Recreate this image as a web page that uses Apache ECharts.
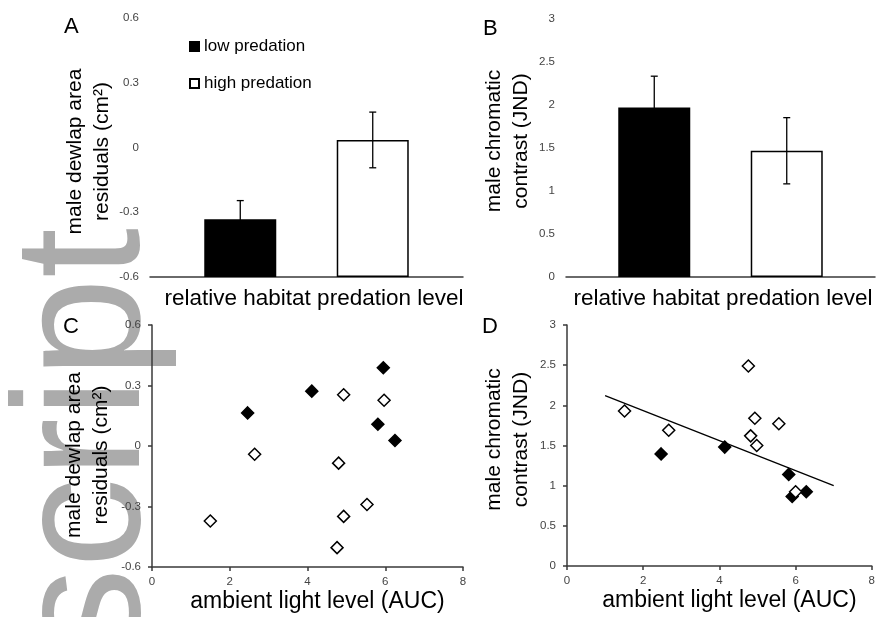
<!DOCTYPE html>
<html>
<head>
<meta charset="utf-8">
<script src="https://cdn.jsdelivr.net/npm/echarts@6/dist/echarts.min.js"></script>
<style>
  html, body { margin: 0; padding: 0; background: #fff; }
  #chart { width: 878px; height: 617px; }
</style>
</head>
<body>
<div id="chart"></div>
<script>
// data
var habitatCategory = ['relative habitat predation level'];
var groupNames = ['low predation', 'high predation'];

// panel A / B: group means and standard errors
var dewlapMean = [-0.333, 0.035];
var dewlapSE = [0.087, 0.129];
var contrastMean = [1.97, 1.468];
var contrastSE = [0.365, 0.385];

// panel C: ambient light vs dewlap residuals
var lowLightC = [2.46, 4.11, 5.81, 5.95, 6.25];
var lowDewlap = [0.164, 0.272, 0.108, 0.388, 0.027];
var highLightC = [1.50, 2.64, 4.76, 4.80, 4.93, 4.93, 5.53, 5.97];
var highDewlap = [-0.372, -0.041, -0.504, -0.085, 0.254, -0.349, -0.29, 0.227];

// panel D: ambient light vs chromatic contrast
var lowLightD = [2.47, 4.14, 5.82, 5.91, 6.28];
var lowContrast = [1.395, 1.48, 1.14, 0.865, 0.925];
var highLightD = [1.51, 2.67, 4.76, 4.82, 4.93, 4.98, 5.56, 6.0];
var highContrast = [1.93, 1.69, 2.49, 1.62, 1.84, 1.50, 1.77, 0.925];

// regression line in D
var trendX = [1, 7];
var trendY = [2.12, 1.0];

var dewlapTicks = { min: -0.6, max: 0.6, interval: 0.3 };
var contrastTicks = { min: 0, max: 3, interval: 0.5 };
var lightTicks = { min: 0, max: 8, interval: 2 };

(function () {
  var myChart = echarts.init(document.getElementById('chart'));
  var FONT = 'Liberation Sans, Arial, sans-serif';
  var AXIS_COLOR = '#3a3a3a';
  var BAR_W = 72;
  var BAR_GAP = 0.84;

  function zip(xs, ys) {
    return xs.map(function (x, i) { return [x, ys[i]]; });
  }

  /* common axis styling */
  function axisBase() {
    return {
      axisLine: { onZero: false, lineStyle: { color: AXIS_COLOR, width: 1.5 } },
      axisTick: { length: 4, lineStyle: { color: AXIS_COLOR, width: 1.5 } },
      axisLabel: { color: '#444', fontSize: 11.5, fontFamily: FONT, margin: 11 },
      splitLine: { show: false }
    };
  }

  function valueY(grid, ticks, name, gap, pad) {
    return Object.assign(axisBase(), {
      type: 'value', gridIndex: grid,
      min: ticks.min, max: ticks.max, interval: ticks.interval,
      name: name, nameLocation: 'middle', nameGap: gap, nameRotate: 90,
      nameTextStyle: { color: '#000', fontSize: 21, lineHeight: 27, fontFamily: FONT, padding: pad }
    });
  }

  function catX(grid, shift) {
    var a = axisBase();
    a.axisLabel = { color: '#000', fontSize: 22.5, fontFamily: FONT, margin: 10, padding: [0, 0, 0, shift] };
    return Object.assign(a, {
      type: 'category', gridIndex: grid, data: habitatCategory,
      boundaryGap: true
    });
  }

  function lightX(grid) {
    var a = axisBase();
    a.axisLabel.margin = 9;
    return Object.assign(a, {
      type: 'value', gridIndex: grid,
      min: lightTicks.min, max: lightTicks.max, interval: lightTicks.interval,
      name: 'ambient light level (AUC)', nameLocation: 'middle', nameGap: 23,
      nameTextStyle: { color: '#000', fontSize: 23, fontFamily: FONT, padding: [0, 0, 0, 20] }
    });
  }

  /* error bars drawn on the category axis next to each bar */
  function errorBars(xi, yi, means, ses) {
    return {
      type: 'custom', xAxisIndex: xi, yAxisIndex: yi, z: 5,
      data: means.map(function (m, i) { return [0, m, ses[i], i]; }),
      encode: { x: 0, y: 1 },
      renderItem: function (params, api) {
        var mean = api.value(1), se = api.value(2), idx = api.value(3);
        var base = api.coord([0, mean]);
        var x = base[0] + (idx - 0.5) * (BAR_W + BAR_W * BAR_GAP);
        var top = api.coord([0, mean + se])[1];
        var bot = api.coord([0, mean - se])[1];
        var st = { stroke: '#000', lineWidth: 1.3 };
        return {
          type: 'group',
          children: [
            { type: 'line', shape: { x1: x, y1: top, x2: x, y2: bot }, style: st },
            { type: 'line', shape: { x1: x - 3.5, y1: top, x2: x + 3.5, y2: top }, style: st },
            { type: 'line', shape: { x1: x - 3.5, y1: bot, x2: x + 3.5, y2: bot }, style: st }
          ]
        };
      }
    };
  }

  /* bars rise from the bottom of the axis (Excel style): an invisible
     base bar up to the axis minimum, then the visible part stacked on it */
  function bars(xi, yi, means, ticks) {
    var out = [];
    means.forEach(function (m, i) {
      var stack = 'g' + xi + '_' + i;
      out.push({
        type: 'bar', xAxisIndex: xi, yAxisIndex: yi, stack: stack, stackStrategy: 'all',
        data: [ticks.min], barWidth: BAR_W, barGap: (BAR_GAP * 100) + '%',
        itemStyle: { color: 'rgba(0,0,0,0)' }, silent: true, tooltip: { show: false }
      });
      out.push({
        name: groupNames[i], type: 'bar', xAxisIndex: xi, yAxisIndex: yi,
        stack: stack, stackStrategy: 'all',
        data: [m - ticks.min], barWidth: BAR_W, barGap: (BAR_GAP * 100) + '%',
        itemStyle: { color: i === 0 ? '#000' : '#fff', borderColor: '#000', borderWidth: 1.5 },
        emphasis: { disabled: true }
      });
    });
    return out;
  }

  function dots(name, xi, yi, xs, ys, filled) {
    return {
      name: name, type: 'scatter', xAxisIndex: xi, yAxisIndex: yi,
      data: zip(xs, ys), symbol: 'diamond', symbolSize: 12, z: 4,
      itemStyle: { color: filled ? '#000' : '#fff', borderColor: '#000', borderWidth: 1.5, opacity: 1 }
    };
  }

  function letter(t, x, y) {
    return {
      type: 'text', x: x, y: y, z: 20,
      style: { text: t, fontSize: 22, fontFamily: FONT, fill: '#000' }
    };
  }

  var series = []
    .concat(bars(0, 0, dewlapMean, dewlapTicks))
    .concat([errorBars(0, 0, dewlapMean, dewlapSE)])
    .concat(bars(1, 1, contrastMean, contrastTicks))
    .concat([errorBars(1, 1, contrastMean, contrastSE)])
    .concat([
      dots(groupNames[0], 2, 2, lowLightC, lowDewlap, true),
      dots(groupNames[1], 2, 2, highLightC, highDewlap, false),
      {
        name: 'trend', type: 'line', xAxisIndex: 3, yAxisIndex: 3,
        data: zip(trendX, trendY), showSymbol: false, symbol: 'none', z: 3,
        lineStyle: { color: '#000', width: 1.3 }
      },
      dots(groupNames[0], 3, 3, lowLightD, lowContrast, true),
      dots(groupNames[1], 3, 3, highLightD, highContrast, false)
    ]);

  var option = {
    animation: false,
    backgroundColor: '#fff',
    textStyle: { fontFamily: FONT },
    grid: [
      { left: 150, top: 18, width: 313, height: 259 },
      { left: 566, top: 19, width: 309, height: 258 },
      { left: 152, top: 325, width: 311, height: 242 },
      { left: 567, top: 325, width: 308, height: 241 }
    ],
    legend: {
      data: groupNames, orient: 'vertical', left: 189, top: 37,
      itemWidth: 9, itemHeight: 9, itemGap: 18, padding: 0,
      icon: 'rect',
      textStyle: { color: '#000', fontSize: 17, fontFamily: FONT, lineHeight: 19 }
    },
    xAxis: [catX(0, 15), catX(1, 5), lightX(2), lightX(3)],
    yAxis: [
      valueY(0, dewlapTicks, 'male dewlap area\nresiduals (cm²)', 31, [0, 8, 0, 0]),
      valueY(1, contrastTicks, 'male chromatic\ncontrast (JND)', 31, [0, 0, 0, 14]),
      valueY(2, dewlapTicks, 'male dewlap area\nresiduals (cm²)', 37, [0, 18, 0, 0]),
      valueY(3, contrastTicks, 'male chromatic\ncontrast (JND)', 32, [0, 0, 0, 12])
    ],
    series: series,
    graphic: [
      /* grey watermark behind the left side */
      {
        type: 'text', x: 89, y: 658, rotation: Math.PI / 2, z: -10, silent: true,
        style: {
          text: 'script', fontSize: 180, fontFamily: FONT, fill: '#ababab',
          align: 'left', verticalAlign: 'middle', textAlign: 'left', textVerticalAlign: 'middle'
        }
      },
      letter('A', 64, 16),
      letter('B', 483, 18),
      letter('C', 63, 316),
      letter('D', 482, 316)
    ]
  };
  myChart.setOption(option);
  window.addEventListener('resize', function () {
    myChart.resize();
  });
})();
</script>
</body>
</html>
